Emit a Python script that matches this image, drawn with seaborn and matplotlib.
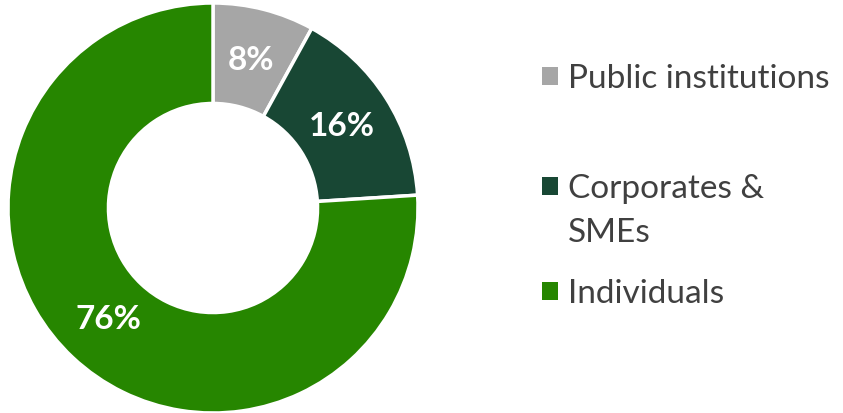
import matplotlib.pyplot as plt
import matplotlib.patches as mpatches
import seaborn as sns

# data
segments = ["Public institutions", "Corporates &\nSMEs", "Individuals"]
shares = [8, 16, 76]
colors = ["#A6A6A6", "#184734", "#268600"]

sns.set_theme(style="white")
plt.rcParams['font.family'] = ['Lato', 'DejaVu Sans']

W, H = 843, 413
fig = plt.figure(figsize=(W / 100, H / 100), dpi=100)
# donut centred at (213, 208) px, outer radius ~205 px
R = 205
ax = fig.add_axes([(213 - R) / W, (H - 208 - R) / H, 2 * R / W, 2 * R / H])

wedges, _, pcts = ax.pie(shares, colors=colors, startangle=90, counterclock=False,
                         radius=1, autopct=lambda p: f"{p:.0f}%", pctdistance=0.745,
                         wedgeprops=dict(width=0.49, edgecolor="white", linewidth=2.5))
for t in pcts:
    t.set_color("white")
    t.set_fontsize(24)
    t.set_fontweight("bold")
ax.set_xlim(-1, 1)
ax.set_ylim(-1, 1)
ax.set_aspect("equal")
ax.axis("off")

# legend entries, spaced like the original
txt = "#404040"
ys = [79, 189, 294]
first_lines = [s.split("\n")[0] for s in segments]
for lab, col, y in zip(first_lines, colors, ys):
    h = mpatches.Patch(facecolor=col, edgecolor="none")
    fig.legend([h], [lab], loc="center left", bbox_to_anchor=(542 / W, 1 - y / H),
               frameon=False, fontsize=24, labelcolor=txt, borderpad=0, borderaxespad=0,
               handlelength=0.48, handleheight=0.48, handletextpad=0.3)
fig.text(568 / W, 1 - 233 / H, "SMEs", fontsize=24, color=txt, va="center", ha="left")

fig.savefig("out.png", dpi=100)
